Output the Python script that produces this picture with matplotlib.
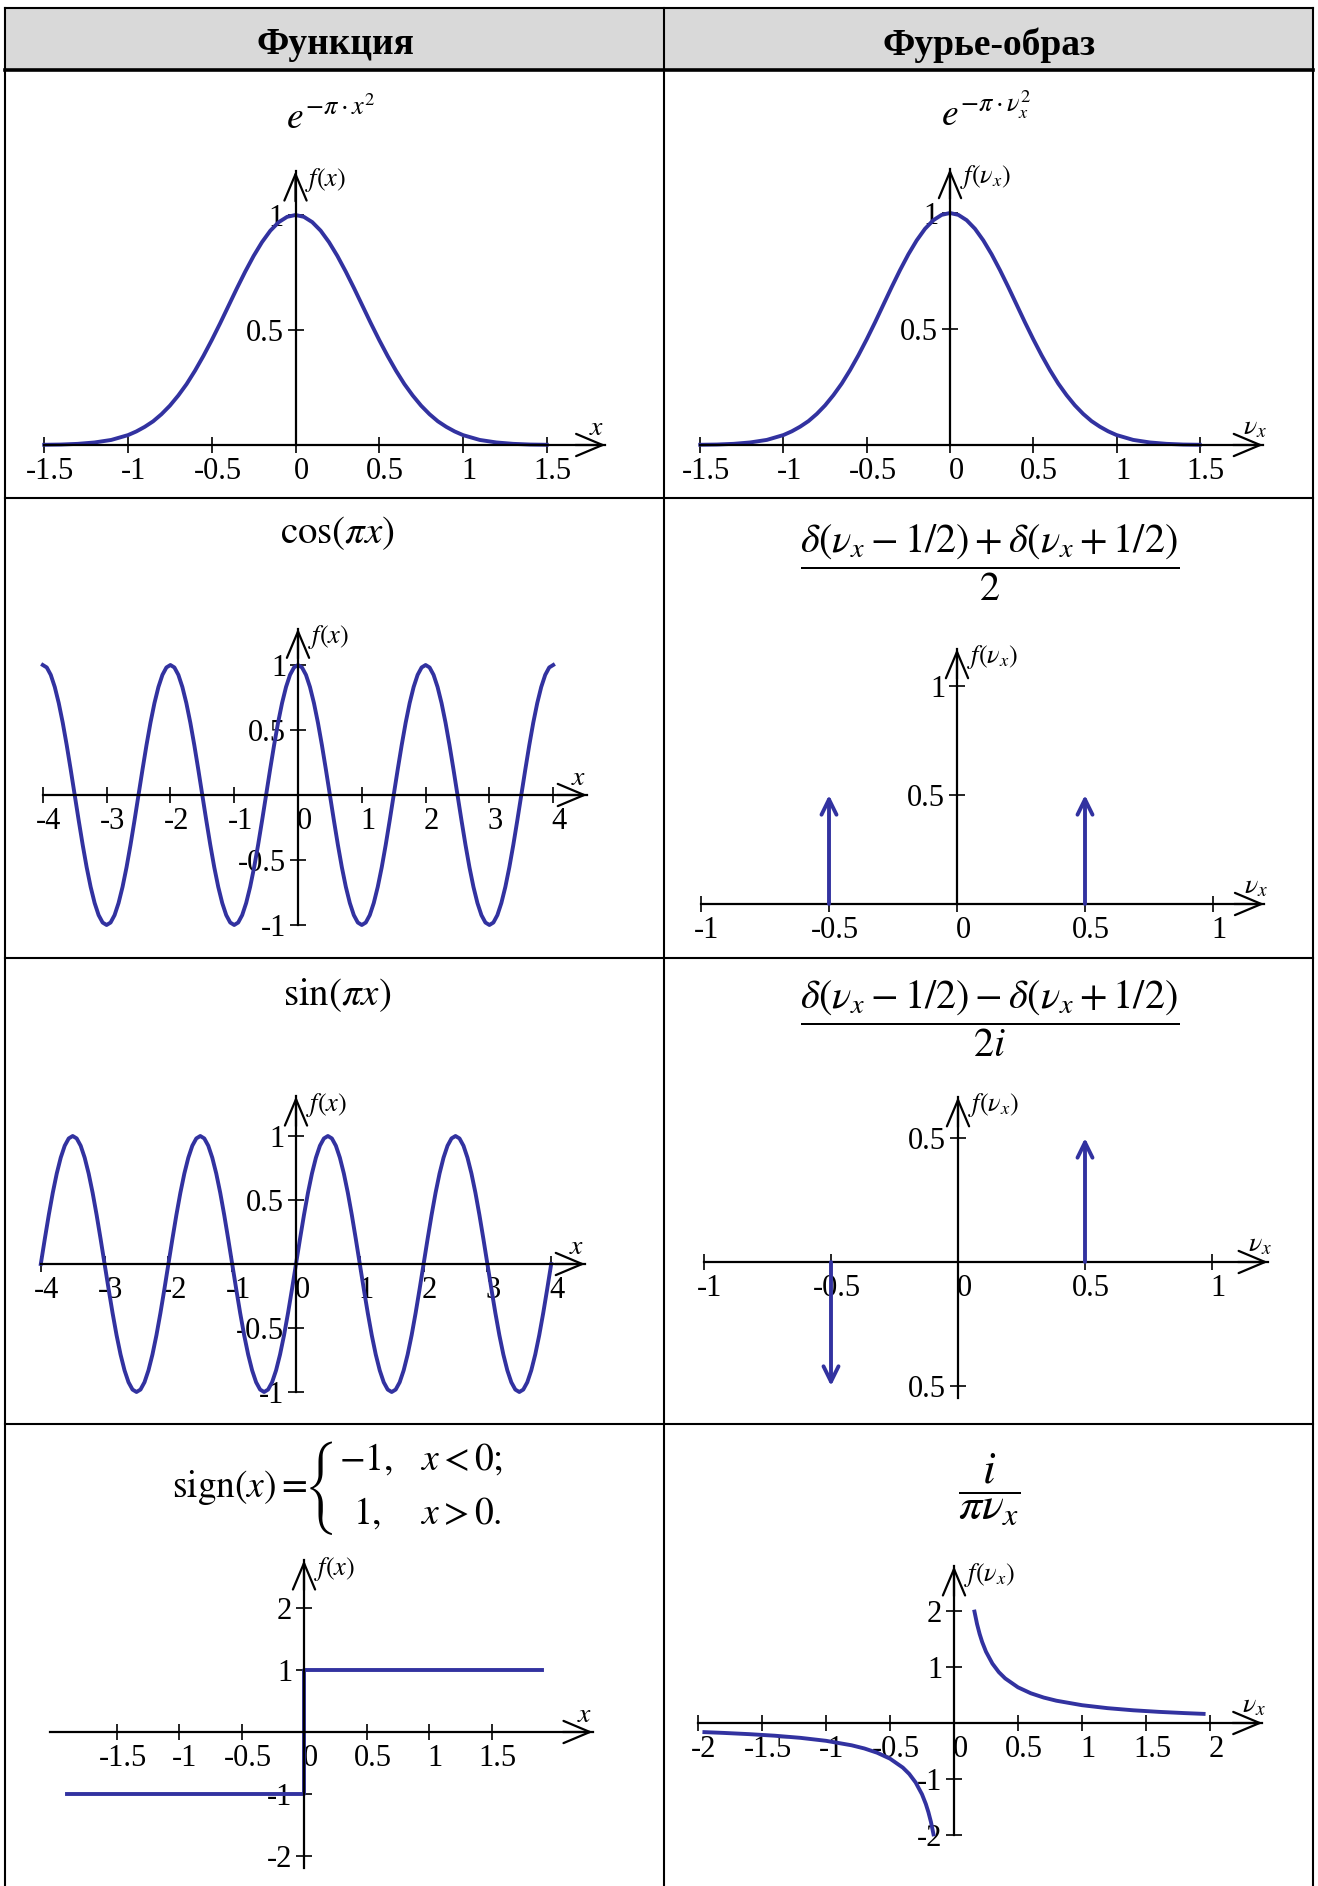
import numpy as np
import matplotlib.pyplot as plt
import matplotlib.transforms as mtransforms
from matplotlib.patches import Rectangle

W, H = 1318, 1886
BLUE = '#3232a0'

plt.rcParams['font.family'] = ['Liberation Serif', 'DejaVu Serif']
plt.rcParams['mathtext.fontset'] = 'stix'

# ---- values ----
# exp(-pi x^2), right half; the left half is its mirror image
gauss_half_x = [0, 0.05, 0.1, 0.15, 0.2, 0.25, 0.3, 0.35, 0.4, 0.45, 0.5, 0.55, 0.6,
                0.65, 0.7, 0.75, 0.8, 0.85, 0.9, 0.95, 1.0, 1.1, 1.2, 1.3, 1.4, 1.5]
gauss_half_y = [1.0, 0.992, 0.969, 0.932, 0.882, 0.822, 0.754, 0.681, 0.605, 0.529, 0.456,
                0.387, 0.323, 0.265, 0.215, 0.171, 0.134, 0.103, 0.079, 0.059, 0.043,
                0.022, 0.011, 0.005, 0.002, 0.001]
gauss_x = [-v for v in gauss_half_x[:0:-1]] + gauss_half_x
gauss_y = gauss_half_y[:0:-1] + gauss_half_y

# one period of cos(pi x) and sin(pi x), sampled every 1/16 starting at x = -4
cos_period = [1.0, 0.981, 0.924, 0.831, 0.707, 0.556, 0.383, 0.195,
              0.0, -0.195, -0.383, -0.556, -0.707, -0.831, -0.924, -0.981,
              -1.0, -0.981, -0.924, -0.831, -0.707, -0.556, -0.383, -0.195,
              0.0, 0.195, 0.383, 0.556, 0.707, 0.831, 0.924, 0.981]
sin_period = [0.0, 0.195, 0.383, 0.556, 0.707, 0.831, 0.924, 0.981,
              1.0, 0.981, 0.924, 0.831, 0.707, 0.556, 0.383, 0.195,
              0.0, -0.195, -0.383, -0.556, -0.707, -0.831, -0.924, -0.981,
              -1.0, -0.981, -0.924, -0.831, -0.707, -0.556, -0.383, -0.195]
wave_x = np.linspace(-4, 4, 129)
cos_y = cos_period * 4 + [1.0]
sin_y = sin_period * 4 + [0.0]

# delta spikes
delta_pos = [-0.5, 0.5]
cos_delta_h = [0.5, 0.5]
sin_delta_h = [-0.5, 0.5]

# sign(x)
sign_x = [-1.9, 0, 0, 1.9]
sign_y = [-1, -1, 1, 1]

# 1/(pi nu), positive branch; the negative branch is the point mirror
recip_x = [0.16, 0.18, 0.2, 0.22, 0.25, 0.3, 0.35, 0.4, 0.5, 0.6, 0.7, 0.8,
           1.0, 1.2, 1.4, 1.6, 1.8, 1.95]
recip_y = [1.989, 1.768, 1.592, 1.447, 1.273, 1.061, 0.909, 0.796, 0.637, 0.531,
           0.455, 0.398, 0.318, 0.265, 0.227, 0.199, 0.177, 0.163]

# ticks
gauss_ticks = [-1.5, -1, -0.5, 0, 0.5, 1, 1.5]
gauss_yticks = [0.5, 1]
wave_ticks = [-4, -3, -2, -1, 0, 1, 2, 3, 4]
wave_yticks = [-1, -0.5, 0.5, 1]
delta_ticks = [-1, -0.5, 0, 0.5, 1]
cos_delta_yticks = [0.5, 1]
sin_delta_yticks = [-0.5, 0.5]
sin_delta_ylabels = ['0.5', '0.5']
sign_ticks = [-1.5, -1, -0.5, 0, 0.5, 1, 1.5]
sign_yticks = [-2, -1, 1, 2]
recip_ticks = [-2, -1.5, -1, -0.5, 0, 0.5, 1, 1.5, 2]
recip_yticks = [-2, -1, 1, 2]


def lab(vals):
    return ['%g' % v for v in vals]


fig = plt.figure(figsize=(W / 100, H / 100), dpi=100)

# background axes in pixel units for the table itself
bg = fig.add_axes([0, 0, 1, 1], zorder=-1)
bg.set_xlim(0, W)
bg.set_ylim(H, 0)
bg.axis('off')
bg.add_patch(Rectangle((5, 8), 1308, 62, facecolor='#d9d9d9', edgecolor='none'))
bg.plot([5, 1313], [8, 8], color='black', lw=1.5)
bg.plot([5, 1313], [70, 70], color='black', lw=2.6)
for yy in [498, 958, 1424]:
    bg.plot([5, 1313], [yy, yy], color='black', lw=1.5)
for xx in [5, 664, 1313]:
    bg.plot([xx, xx], [8, H], color='black', lw=1.5)

bg.text(335, 45, 'Функция', ha='center', va='center', fontsize=27, fontweight='bold')
bg.text(989, 45, 'Фурье-образ', ha='center', va='center', fontsize=27, fontweight='bold')

# formulas
bg.text(331, 117, r'$e^{-\pi\cdot x^{2}}$', ha='center', va='center', fontsize=27)
bg.text(986, 114, r'$e^{-\pi\cdot\nu_x^{2}}$', ha='center', va='center', fontsize=27)
bg.text(337, 533, r'$\mathrm{cos}\left(\pi x\right)$', ha='center', va='center', fontsize=28)
bg.text(990, 563, r'$\dfrac{\delta\left(\nu_x-1/2\right)+\delta\left(\nu_x+1/2\right)}{2}$',
        ha='center', va='center', fontsize=29)
bg.text(337, 995, r'$\mathrm{sin}\left(\pi x\right)$', ha='center', va='center', fontsize=28)
bg.text(990, 1019, r'$\dfrac{\delta\left(\nu_x-1/2\right)-\delta\left(\nu_x+1/2\right)}{2i}$',
        ha='center', va='center', fontsize=29)
# sign(x) with a two-line brace
bg.text(307, 1497, r'$\mathrm{sign}(x)=$', ha='right', va='baseline', fontsize=27)
bg.text(322, 1488, '{', ha='center', va='center', fontsize=27,
        family=['STIXSizeThreeSym', 'DejaVu Serif'])
bg.text(339, 1470, r'$-1,$', ha='left', va='baseline', fontsize=27)
bg.text(420, 1470, r'$x<0;$', ha='left', va='baseline', fontsize=27)
bg.text(353, 1524, r'$1,$', ha='left', va='baseline', fontsize=27)
bg.text(420, 1524, r'$x>0.$', ha='left', va='baseline', fontsize=27)
bg.text(989, 1489, r'$\dfrac{i}{\pi\nu_x}$', ha='center', va='center', fontsize=33)

AX_ARROW = dict(arrowstyle='->,head_length=0.95,head_width=0.4', lw=1.6, color='black',
                mutation_scale=20, shrinkA=0, shrinkB=0)
DELTA_ARROW = dict(arrowstyle='->,head_length=0.55,head_width=0.27', lw=2.8, color=BLUE,
                   mutation_scale=20, shrinkA=0, shrinkB=0)
LABEL_SHIFT = mtransforms.ScaledTranslation(6 / 100, 0, fig.dpi_scale_trans)


def make_axes(ox, oy, sx, sy, xb, yb, xname, yname):
    # ox, oy: origin in pixels; sx, sy: pixels per unit; xb, yb: extents of axis lines
    m = 20
    xlim = (xb[0] - m / sx, xb[1] + m / sx)
    ylim = (yb[0] - m / sy, yb[1] + m / sy)
    left = ox + xlim[0] * sx
    bottom = oy - ylim[0] * sy
    w = (xlim[1] - xlim[0]) * sx
    h = (ylim[1] - ylim[0]) * sy
    ax = fig.add_axes([left / W, 1 - bottom / H, w / W, h / H])
    ax.set_xlim(xlim)
    ax.set_ylim(ylim)
    ax.patch.set_visible(False)
    for s in ['top', 'right']:
        ax.spines[s].set_visible(False)
    ax.spines['left'].set_position(('data', 0))
    ax.spines['bottom'].set_position(('data', 0))
    ax.spines['bottom'].set_bounds(*xb)
    ax.spines['left'].set_bounds(*yb)
    for s in ['left', 'bottom']:
        ax.spines[s].set_linewidth(1.6)
    ax.annotate('', xy=(xb[1], 0), xytext=(xb[1] - 30 / sx, 0), arrowprops=AX_ARROW,
                annotation_clip=False)
    ax.annotate('', xy=(0, yb[1]), xytext=(0, yb[1] - 30 / sy), arrowprops=AX_ARROW,
                annotation_clip=False)
    ax.annotate(xname, xy=(xb[1], 0), xytext=(-6, 12), textcoords='offset points',
                ha='center', va='center', fontsize=20)
    ax.annotate(yname, xy=(0, yb[1]), xytext=(7, -6), textcoords='offset points',
                ha='left', va='center', fontsize=19)
    ax.tick_params(direction='inout', length=11, width=1.2, labelsize=22, pad=3)
    return ax


def set_ticks(ax, xt, xl, yt, yl):
    ax.set_xticks(xt, xl)
    ax.set_yticks(yt, yl)
    for t in ax.get_xticklabels():
        t.set_transform(t.get_transform() + LABEL_SHIFT)


# row 1: gaussian
ax = make_axes(295.5, 445, 167.5, 230, (-1.5, 1.85), (0, 1.19), r'$x$', r'$f(x)$')
ax.plot(gauss_x, gauss_y, color=BLUE, lw=2.8, clip_on=False)
set_ticks(ax, gauss_ticks, lab(gauss_ticks), gauss_yticks, lab(gauss_yticks))

ax = make_axes(950, 445, 166.5, 232, (-1.5, 1.88), (0, 1.19), r'$\nu_x$', r'$f(\nu_x)$')
ax.plot(gauss_x, gauss_y, color=BLUE, lw=2.8, clip_on=False)
set_ticks(ax, gauss_ticks, lab(gauss_ticks), gauss_yticks, lab(gauss_yticks))

# row 2: cosine and its two deltas
ax = make_axes(298, 795, 63.8, 130, (-4, 4.53), (-1, 1.28), r'$x$', r'$f(x)$')
ax.plot(wave_x, cos_y, color=BLUE, lw=2.8, clip_on=False)
set_ticks(ax, wave_ticks, lab(wave_ticks), wave_yticks, lab(wave_yticks))

ax = make_axes(957, 904, 256, 218, (-1, 1.2), (0, 1.17), r'$\nu_x$', r'$f(\nu_x)$')
for p, hgt in zip(delta_pos, cos_delta_h):
    ax.annotate('', xy=(p, hgt), xytext=(p, 0), arrowprops=DELTA_ARROW)
set_ticks(ax, delta_ticks, lab(delta_ticks), cos_delta_yticks, lab(cos_delta_yticks))

# row 3: sine and its two deltas
ax = make_axes(296, 1264, 63.8, 128, (-4, 4.53), (-1, 1.31), r'$x$', r'$f(x)$')
ax.plot(wave_x, sin_y, color=BLUE, lw=2.8, clip_on=False)
set_ticks(ax, wave_ticks, lab(wave_ticks), wave_yticks, lab(wave_yticks))

ax = make_axes(958, 1262, 254, 248, (-1, 1.22), (-0.55, 0.665), r'$\nu_x$', r'$f(\nu_x)$')
for p, hgt in zip(delta_pos, sin_delta_h):
    ax.annotate('', xy=(p, hgt), xytext=(p, 0), arrowprops=DELTA_ARROW)
set_ticks(ax, delta_ticks, lab(delta_ticks), sin_delta_yticks, sin_delta_ylabels)

# row 4: sign and i/(pi nu)
ax = make_axes(304, 1732, 125, 62, (-2.03, 2.31), (-2.2, 2.77), r'$x$', r'$f(x)$')
ax.plot(sign_x, sign_y, color=BLUE, lw=2.8, clip_on=False)
set_ticks(ax, sign_ticks, lab(sign_ticks), sign_yticks, lab(sign_yticks))

ax = make_axes(954, 1723, 128, 56, (-2, 2.41), (-2, 2.8), r'$\nu_x$', r'$f(\nu_x)$')
ax.plot(recip_x, recip_y, color=BLUE, lw=2.8, clip_on=False)
ax.plot([-v for v in recip_x], [-v for v in recip_y], color=BLUE, lw=2.8, clip_on=False)
set_ticks(ax, recip_ticks, lab(recip_ticks), recip_yticks, lab(recip_yticks))

fig.savefig('out.png', dpi=100)
